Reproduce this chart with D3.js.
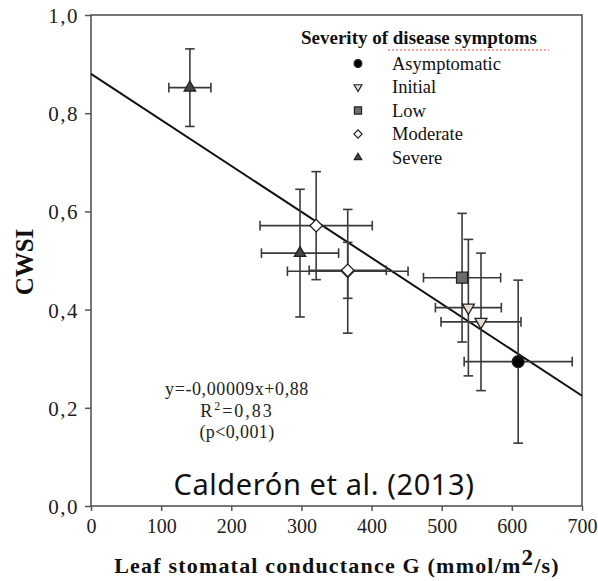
<!DOCTYPE html>
<html>
<head>
<meta charset="utf-8">
<script src="https://cdn.jsdelivr.net/npm/d3@7"></script>
<style>
  html, body { margin: 0; padding: 0; background: #fff; }
  svg { display: block; }
</style>
</head>
<body>
<svg id="chart" width="598" height="581"></svg>
<script>
// ---- data ----
const categories = ["Asymptomatic", "Initial", "Low", "Moderate", "Severe"];
const pointCategory = ["Severe", "Severe", "Moderate", "Moderate", "Moderate", "Low", "Initial", "Initial", "Asymptomatic"];
const pointG        = [141, 298, 321, 366, 366, 529, 538, 556, 609];
const pointGErr     = [30, 55, 80, 86, 55, 55, 47, 57, 77];
const pointCWSI     = [0.852, 0.515, 0.571, 0.478, 0.480, 0.465, 0.404, 0.375, 0.294];
const pointCWSIErr  = [0.079, 0.13, 0.11, 0.126, 0.057, 0.131, 0.139, 0.14, 0.166];
const fitG    = [0, 700];
const fitCWSI = [0.88, 0.2245];
const xTicks = [0, 100, 200, 300, 400, 500, 600, 700];
const yTicks = [0.0, 0.2, 0.4, 0.6, 0.8, 1.0];
const equationLines = ["y=-0,00009x+0,88", "R2=0,83", "(p<0,001)"];

// ---- styles ----
const markerStyle = {
  "Asymptomatic": { type: "circle",   fill: "#000000", size: 12 },
  "Initial":      { type: "invtri",   fill: "#e6ddcf", size: 12 },
  "Low":          { type: "square",   fill: "#6f6b67", size: 11 },
  "Moderate":     { type: "diamond",  fill: "#ffffff", size: 12.5 },
  "Severe":       { type: "triangle", fill: "#444444", size: 11.5 }
};

const svg = d3.select("#chart");
const pLeft = 91, pRight = 582, pTop = 15, pBottom = 506;
const x = d3.scaleLinear().domain([0, 700]).range([pLeft, pRight]);
const y = d3.scaleLinear().domain([0, 1]).range([pBottom, pTop]);
const serif = "'Liberation Serif', 'Times New Roman', serif";

function symbolPath(type, s) {
  const area = s * s;
  if (type === "circle") return d3.symbol(d3.symbolCircle, Math.PI * (s/2) * (s/2))();
  if (type === "square") return d3.symbol(d3.symbolSquare, area)();
  if (type === "diamond") return d3.symbol(d3.symbolSquare, area * 0.5)();
  return d3.symbol(d3.symbolTriangle, 0.433 * area)();
}
function symbolRotate(type) {
  if (type === "diamond") return 45;
  if (type === "invtri") return 180;
  return 0;
}

// ---- axes ----
const fmt = v => d3.format(".1f")(v).replace(".", ",");
const gx = svg.append("g").attr("transform", `translate(0,${pBottom})`)
  .call(d3.axisBottom(x).tickValues(xTicks).tickSize(5).tickPadding(8).tickFormat(d3.format("d")));
const gy = svg.append("g").attr("transform", `translate(${pLeft},0)`)
  .call(d3.axisLeft(y).tickValues(yTicks).tickSize(6).tickPadding(6).tickFormat(fmt));
[gx, gy].forEach(g => {
  g.select(".domain").remove();
  g.selectAll(".tick line").attr("stroke", "#555").attr("stroke-width", 1.5);
  g.selectAll(".tick text").attr("fill", "#222").style("font-family", serif).style("font-size", "20px");
});
gy.selectAll(".tick text").style("font-size", "21px").style("letter-spacing", "1.5px").attr("dy", "0.36em");

// frame
svg.append("rect").attr("x", pLeft).attr("y", pTop).attr("width", pRight - pLeft).attr("height", pBottom - pTop)
  .attr("fill", "none").attr("stroke", "#555").attr("stroke-width", 1.6);

// axis titles
svg.append("text").attr("transform", `translate(33,262) rotate(-90)`)
  .attr("text-anchor", "middle").style("font-family", serif).style("font-size", "25px")
  .style("font-weight", "bold").attr("fill", "#111").text("CWSI");

const xt = svg.append("text").attr("x", 337).attr("y", 573).attr("text-anchor", "middle")
  .style("font-family", serif).style("font-size", "22px").style("font-weight", "bold")
  .style("letter-spacing", "1.2px").attr("fill", "#111");
xt.append("tspan").text("Leaf stomatal conductance G (mmol/m");
xt.append("tspan").attr("dy", -8).style("font-size", "23px").text("2");
xt.append("tspan").attr("dy", 8).text("/s)");

// regression line
svg.append("line")
  .attr("x1", x(fitG[0])).attr("y1", y(fitCWSI[0]))
  .attr("x2", x(fitG[1])).attr("y2", y(fitCWSI[1]))
  .attr("stroke", "#111").attr("stroke-width", 2);

// error bars
const eb = svg.append("g").attr("stroke", "#3a3a3a").attr("stroke-width", 1.6).attr("fill", "none");
const cap = 4.8;
pointG.forEach((g, i) => {
  const cx = x(g), cy = y(pointCWSI[i]);
  const x0 = x(g - pointGErr[i]), x1 = x(g + pointGErr[i]);
  const y0 = y(pointCWSI[i] - pointCWSIErr[i]), y1 = y(pointCWSI[i] + pointCWSIErr[i]);
  eb.append("line").attr("x1", x0).attr("x2", x1).attr("y1", cy).attr("y2", cy);
  eb.append("line").attr("x1", x0).attr("x2", x0).attr("y1", cy - cap).attr("y2", cy + cap);
  eb.append("line").attr("x1", x1).attr("x2", x1).attr("y1", cy - cap).attr("y2", cy + cap);
  eb.append("line").attr("x1", cx).attr("x2", cx).attr("y1", y0).attr("y2", y1);
  eb.append("line").attr("x1", cx - cap).attr("x2", cx + cap).attr("y1", y0).attr("y2", y0);
  eb.append("line").attr("x1", cx - cap).attr("x2", cx + cap).attr("y1", y1).attr("y2", y1);
});

// markers
pointG.forEach((g, i) => {
  const st = markerStyle[pointCategory[i]];
  svg.append("path")
    .attr("d", symbolPath(st.type, st.size))
    .attr("transform", `translate(${x(g)},${y(pointCWSI[i])}) rotate(${symbolRotate(st.type)})`)
    .attr("fill", st.fill).attr("stroke", "#222").attr("stroke-width", 1.3);
});

// legend
svg.append("text").attr("x", 301).attr("y", 44)
  .style("font-family", serif).style("font-size", "19px").style("font-weight", "bold").attr("fill", "#111")
  .text("Severity of disease symptoms");
svg.append("line").attr("x1", 388).attr("x2", 549).attr("y1", 50).attr("y2", 50)
  .attr("stroke", "#e04848").attr("stroke-width", 1).attr("stroke-dasharray", "2,2");
categories.forEach((c, i) => {
  const st = markerStyle[c];
  const cy = 63.5 + i * 23.5;
  svg.append("path")
    .attr("d", symbolPath(st.type, st.size * 0.65))
    .attr("transform", `translate(358,${cy}) rotate(${symbolRotate(st.type)})`)
    .attr("fill", st.fill).attr("stroke", "#222").attr("stroke-width", 1.2);
  svg.append("text").attr("x", 392).attr("y", cy + 6)
    .style("font-family", serif).style("font-size", "18.5px").attr("fill", "#111").text(c);
});

// equation
const eqY = [395, 417, 438];
const eqSpacing = ["0.6px", "2px", "0.4px"];
equationLines.forEach((t, i) => {
  const tx = svg.append("text").attr("x", 237).attr("y", eqY[i]).attr("text-anchor", "middle")
    .style("font-family", serif).style("font-size", "18px").style("letter-spacing", eqSpacing[i])
    .attr("fill", "#222");
  if (t.startsWith("R2")) {
    tx.append("tspan").text("R");
    tx.append("tspan").attr("dy", -7).style("font-size", "12px").text("2");
    tx.append("tspan").attr("dy", 7).text(t.slice(2));
  } else {
    tx.text(t);
  }
});

// citation
svg.append("text").attr("x", 324).attr("y", 495).attr("text-anchor", "middle")
  .style("font-family", "'Noto Sans', 'Open Sans', sans-serif").style("font-size", "29px")
  .style("letter-spacing", "0.6px").attr("fill", "#111")
  .text("Calderón et al. (2013)");
</script>
</body>
</html>
